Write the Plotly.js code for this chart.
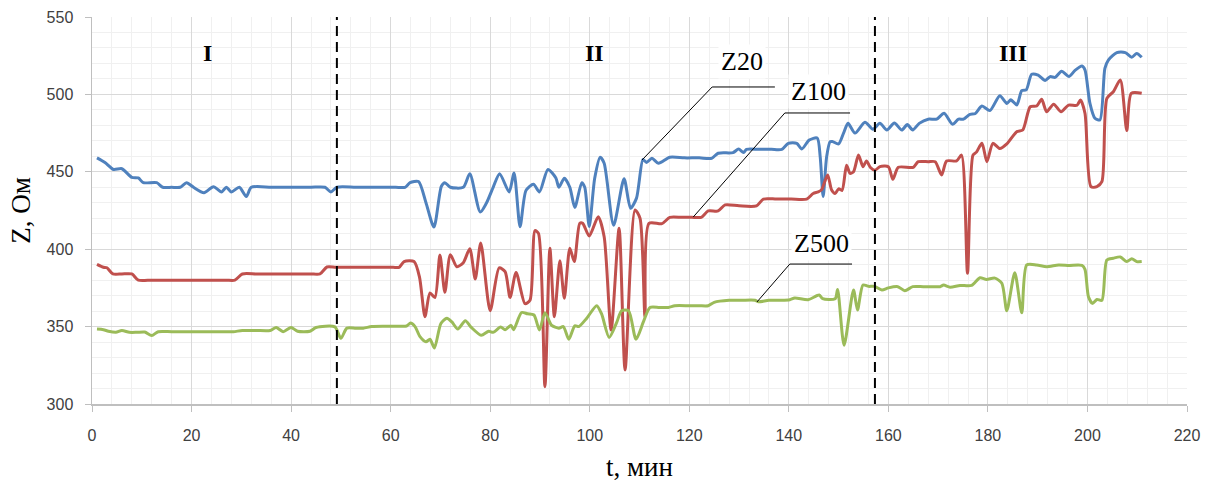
<!DOCTYPE html>
<html><head><meta charset="utf-8">
<script src="https://cdn.plot.ly/plotly-3.0.1.min.js"></script>
<style>html,body{margin:0;padding:0;background:#fff}#chart{width:1212px;height:492px}</style>
</head><body><div id="chart"></div>
<script>
// ---- data (time, min) ----
const t20 = [1,2.6,4.3,6,8,9.3,10.3,13,14.2,16,17.7,19,20.4,22.5,24.4,26,27,28,29.6,31,32,36,40,44,46.8,48,49.2,53,57,61,62.9,63.9,65.6,67.1,68.7,70.2,70.9,72,74.6,75.9,78,79.2,80.6,81.9,83.8,84.8,86,87.2,88.7,89.9,91.6,93.2,93.8,94.9,96,97,98.4,99,99.9,101,102.1,102.9,104.8,106.9,108.2,109.4,110.7,111.4,112.5,113.8,116.1,119,122,124.5,125.8,128.8,129.9,130.9,131.5,134,136.5,138.6,139.9,141.6,142.6,144.1,145.7,146.3,146.9,147.6,148.3,148.8,150,151,151.9,153.3,155.3,156.9,158.3,159.7,161.2,162.7,163.8,164.9,166.2,168,169.7,171.2,172.9,174.1,175.1,176.4,177.4,178.8,180.4,182.4,183.8,184.6,185.8,186.8,187.7,188.8,190.1,191.5,192.5,193.5,194.8,196.3,197.5,198.9,199.5,200.5,201.5,202.5,203.5,204.2,205.9,207.6,208.9,209.9,210.9];
const z20 = [459,456,451.5,452,446.4,446,443,443,440,440,440,443,440,436.5,440.4,437,440,437,440,434,440,440,440,440,440,437,440,440,440,440,440,443,443.7,430,414.3,440.7,443,440,440,448.8,424,429.5,440,448.8,437,449.2,414.5,438,442,437,451.5,446,440,445.8,440,427,443,440,414.7,445.8,459.4,455.5,415.5,445.5,426.4,433,458,456,458.7,455.5,459.4,459,459,458.7,462,462.4,464.7,462.4,464.5,464.5,464.5,464.5,468.4,468.4,464.7,470.5,471.8,459.8,434,459.8,469.5,469.5,468,475,481.3,475,482,477.5,481.3,477,481.5,477,480.5,477,481.3,484,484,487.8,480.7,484,484,487.1,487.5,492.5,489.6,499.2,494.2,496.5,493.2,502.4,502.9,513,512.4,509,511.5,511,515,511.6,515.5,518.3,515.8,494.2,484.6,483.5,516.8,522.2,527,527,524,526.5,524];

const t100 = [1,2.3,3,4.2,6,8,9.3,12,16,20,24,27,28.7,30.2,33,37,41,44,45.8,47.2,49,52,55,58,60.5,61.7,62.7,64.7,65.8,66.9,67.9,68.9,69.9,70.9,72,73.3,74.6,75.9,77,78.1,80,81.8,83,84,85.2,87,88,89,89.7,91,92,92.9,94,94.9,96,96.9,98,98.6,99.9,101.7,102.9,104.3,105.9,107.1,109.1,110.1,111.1,111.9,114.5,116.1,118.5,120.5,122.4,123.8,125.8,127.2,130,133.5,134.9,137.5,140.5,143.6,144.9,145.9,146.6,147.8,148.6,149.3,150,150.7,151.6,152.3,153,154,154.9,155.6,156.4,157.3,158.3,160,160.9,162,165,166,168,169.4,170.7,171.7,173.7,174.7,175.9,177,177.7,178.8,179.8,181,182.4,183.8,185.8,187,188.5,189.8,190.8,191.8,193.2,194.7,196.2,197.9,198.6,199.5,200.7,201.9,202.9,203.9,205.2,206.6,207.9,208.8,210.9];
const z100 = [390.2,388.3,388,384,384,384,380,380,380,380,380,380,380,384,384,384,384,384,384,388.5,388.3,388.3,388.3,388.3,388.3,388.3,392,392,382,356.4,371.7,368.8,396.3,372.2,396.5,388.7,391.3,400.3,380.8,404,360.3,388,385.5,368.8,385,364.8,367,412,410.2,311.2,400.6,356.4,392.5,368.3,400.6,392,416.7,416.7,408.5,421,408,347.8,413.5,322,425.3,420,356.4,416.7,416.5,420.6,420.6,420.6,420.6,424.7,424.7,428.6,428,428,432.4,432.4,432.4,432.4,436,437,438.5,448,438.2,436,439,438,454.3,449,450,460.8,453.3,457,452.8,451,453.3,453.3,445.2,452.9,452.9,456.5,456.5,456.5,448,457,457,460.8,384.4,460.8,462.7,468.4,456.5,468.4,465,468,475.9,477,492,492.5,496.8,488.8,493.7,488.8,493.1,493,496.4,487.8,440.4,440.5,443.6,497.5,501.7,509.3,476.6,500.7,500.7];

const t500 = [1,2.3,3.3,4.8,6,7.5,9,10.6,12,13.3,16,20,24,26.5,28.4,30.2,33,35.8,37,38.4,40,41.3,43.8,45,48.8,50,51.2,53,54.5,56.2,59,61.5,63.2,64,64.9,65.9,67.1,67.9,68.8,70.1,71.3,72.3,73.5,75,76.2,78.2,79.7,80.6,82.1,83,84.2,84.7,86.3,87.5,88.8,89.9,91,92.3,93.8,94.7,95.8,97,97.8,99.4,101.4,102.4,103.9,105.4,106.4,107.8,109.3,110.8,112.1,114,115.8,117.1,120,122,123.8,125,128,130.5,133.2,133.9,136,138.5,140.2,141.2,143.9,146.1,146.8,149.3,149.8,151.1,153,153.8,154.9,156,157.2,158.7,160,161.9,163.3,164.9,167,169,170.4,171.1,172.4,174.4,176.7,178.4,179.7,181.4,182.8,183.8,185.4,186.8,187.8,189.8,191.8,194.2,196.3,198.9,199.5,200.2,201,201.9,202.9,203.9,205.2,206.6,207.9,208.9,209.9,210.9];
const z500 = [348.4,348,347,346.3,347.5,346.3,346.3,346.5,344.2,346.7,346.7,346.7,346.7,346.7,346.7,347.5,347.5,347.5,349.4,346.7,349.4,347,347,349.4,349.8,342.4,349,349,349,350,350.2,350.3,350.4,352.3,350,343.5,340.2,341.8,336.2,352,355.4,353,348.4,353.8,349.5,344.4,347,346.3,349.7,348,350.8,348,359.1,358.3,357.5,347.8,359,351,349,350,341.8,350.5,350,355.4,363.5,358,343,352.5,360.3,360.3,341.8,353.2,362.4,362.4,362.4,363.5,363.5,363.5,363.5,365.7,367,367,367,366,367,367,367.4,368.5,367.4,370.4,368,368,374,338,373.6,360.7,376.9,376,376,373.6,375,375.8,373.2,375.8,375.8,375.8,375.8,376.8,375.5,376.6,376.6,381.6,380.5,381.3,378,360.3,384.8,359,389.8,389.8,388.7,389.8,389.5,389.5,387,369.3,365,367.5,367,393,394.2,395,392,393.8,392,392];

const seriesNames = ['Z20','Z100','Z500'];
const phaseLabels = ['I','II','III'];
const phaseBounds = [49.2, 157.3];
const xTicks = [0,20,40,60,80,100,120,140,160,180,200,220];
const yTicks = [300,350,400,450,500,550];

// ---- layout helpers ----
const colors = ['#4f81bd','#c0504d','#9bbb59'];
const phasePos = [[23.2,527],[100.9,527],[185,527]];
// callouts: [curve x, curve y, elbow x, elbow y, end x, text x, text y]
const callouts = [
  [110.5,457.6,124.6,504.8,137.2,130.6,521],
  [120.8,420.8,139.2,488.0,152.3,146.0,502],
  [133.6,365.9,140.2,390.4,152.7,146.6,404]
];
const serif = 'Liberation Serif, Times New Roman, serif';

const tsets = [t20,t100,t500], zsets = [z20,z100,z500];
const traces = seriesNames.map((n,i)=>({
  x: tsets[i], y: zsets[i], name: n, type:'scatter', mode:'lines',
  line:{color:colors[i], width:3, shape:'spline', smoothing:0.7},
  hoverinfo:'x+y+name'
}));

const shapes = [];
phaseBounds.forEach(b=>shapes.push({type:'line', xref:'x', yref:'paper', x0:b, x1:b, y0:0, y1:1,
  line:{color:'#000', width:2, dash:'10px,6px'}}));
callouts.forEach(c=>shapes.push({type:'path', xref:'x', yref:'y',
  path:`M ${c[0]},${c[1]} L ${c[2]},${c[3]} L ${c[4]},${c[3]}`, line:{color:'#000', width:1}}));

const annotations = [];
phaseLabels.forEach((p,i)=>annotations.push({x:phasePos[i][0], y:phasePos[i][1], xref:'x', yref:'y', text:'<b>'+p+'</b>',
  showarrow:false, font:{family:serif, size:24, color:'#000'}}));
callouts.forEach((c,i)=>annotations.push({x:c[5], y:c[6], xref:'x', yref:'y', text:seriesNames[i], showarrow:false,
  bgcolor:'#ffffff', borderpad:2,
  font:{family:serif, size:26, color:'#000'}}));

const layout = {
  width:1212, height:492,
  margin:{l:92, r:25, t:17, b:88},
  paper_bgcolor:'#fff', plot_bgcolor:'#fff',
  showlegend:false,
  font:{family:'Liberation Sans, Arial, sans-serif', size:16, color:'#404040'},
  xaxis:{range:[0,220], tickvals:xTicks, ticks:'outside', ticklen:6, tickcolor:'#bfbfbf',
    showline:true, linecolor:'#bfbfbf', linewidth:1.5, gridcolor:'#d9d9d9', gridwidth:1, zeroline:false,
    minor:{dtick:4, showgrid:true, gridcolor:'#f0f0f0', gridwidth:1},
    ticklabelstandoff:10,
    title:{text:'t, мин', font:{family:serif, size:27, color:'#000'}, standoff:14}},
  yaxis:{range:[300,550], tickvals:yTicks, ticks:'outside', ticklen:6, tickcolor:'#bfbfbf',
    showline:true, linecolor:'#bfbfbf', linewidth:1.5, gridcolor:'#d9d9d9', gridwidth:1, zeroline:false,
    minor:{dtick:10, showgrid:true, gridcolor:'#f0f0f0', gridwidth:1},
    ticklabelstandoff:8,
    title:{text:'Z, Ом', font:{family:serif, size:27, color:'#000'}, standoff:8}},
  shapes:shapes, annotations:annotations
};
Plotly.newPlot('chart', traces, layout, {displayModeBar:false, staticPlot:true});
</script></body></html>
